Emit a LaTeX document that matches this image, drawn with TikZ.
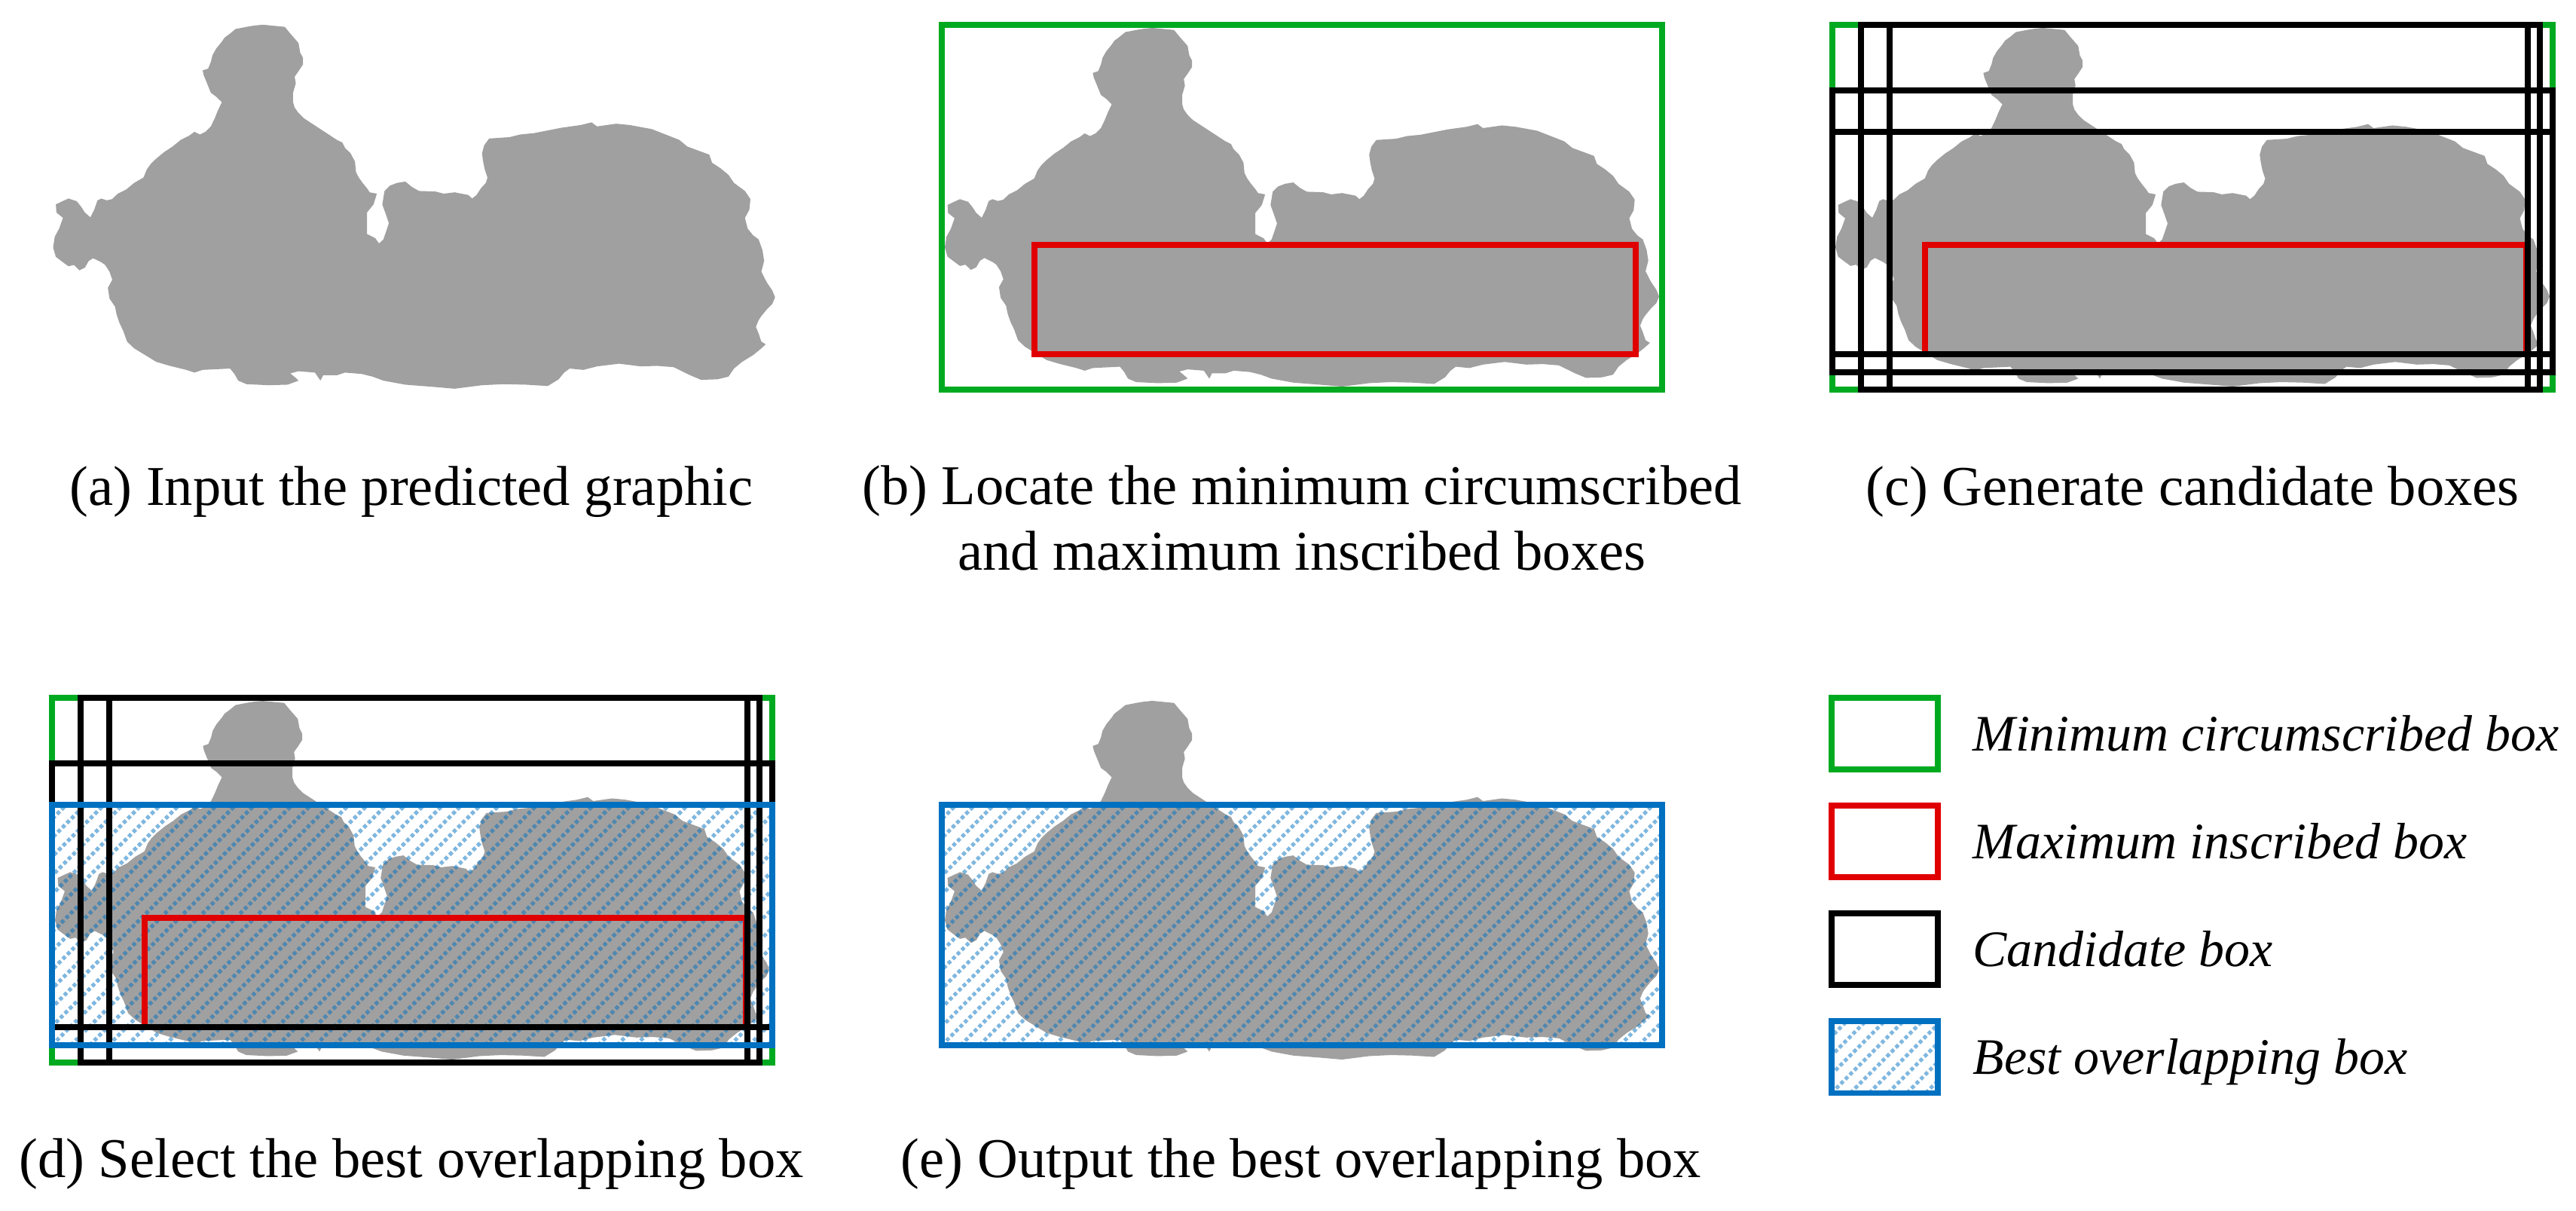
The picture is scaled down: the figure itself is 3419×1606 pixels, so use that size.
\documentclass[tikz,border=0pt]{standalone}
\usepackage{fontspec}
\setmainfont{Liberation Serif}
\usetikzlibrary{positioning}

\definecolor{boxgreen}{RGB}{0,170,32}
\definecolor{boxred}{RGB}{224,0,0}
\definecolor{boxblue}{RGB}{0,112,192}
\definecolor{blobgray}{RGB}{160,160,160}

\newcommand{\capfont}{\fontsize{21.2pt}{24.5pt}\selectfont}
\newcommand{\legfont}{\fontsize{19.3pt}{22pt}\selectfont\itshape}

\begin{document}
\begin{tikzpicture}[
        x=0.01cm, y=-0.01cm,
        edge/.style={line width=0.075cm},
        minbox/.style={edge, draw=boxgreen},
        maxbox/.style={edge, draw=boxred},
        candbox/.style={edge, draw=black},
        bestbox/.style={edge, draw=boxblue},
        hatchline/.style={
            draw=boxblue,
            draw opacity=0.5,
            line width=0.05cm,
            dash pattern=on 0.05cm off 0.035cm
        },
        hatched/.style={
            path picture={
                \foreach \k in {-500,-475,...,1000}
                    \draw[hatchline] (path picture bounding box.south west) ++(\k,0) -- ++(600,-600);
            }
        },
        captxt/.style={font=\capfont, anchor=base, align=center, inner sep=0pt},
        legbox/.style={edge, minimum width=1.41cm, minimum height=0.95cm, inner sep=0pt},
        legtxt/.style={font=\legfont, inner sep=0pt, text height=0.46cm, text depth=0cm},
        node distance=0.405cm and 0.42cm,
        blob/.pic={
            \fill[blobgray, shift={(-97,-92)}]
            (480,92) -- (520,100) -- (530,125) -- (545,160) -- (548,195) -- (553,215) -- (553,240)
            -- (545,265) -- (538,285) -- (540,310) -- (535,345) -- (535,380) -- (538,400) -- (545,420)
            -- (555,440) -- (570,460) -- (585,480) -- (600,500) -- (615,520) -- (625,530) -- (630,550)
            -- (640,570) -- (648,600) -- (650,640) -- (655,660) -- (662,680) -- (670,700) -- (675,715)
            -- (688,720) -- (682,760) -- (670,790) -- (670,870) -- (685,885) -- (692,905) -- (700,890)
            -- (705,860) -- (710,830) -- (705,800) -- (698,760) -- (702,710) -- (712,690) -- (725,680)
            -- (740,675) -- (752,695) -- (765,710) -- (795,712) -- (810,720) -- (830,715) -- (855,725)
            -- (862,738) -- (870,725) -- (878,700) -- (887,680) -- (890,660) -- (885,630) -- (882,600)
            -- (880,570) -- (884,540) -- (893,515) -- (930,510) -- (950,500) -- (975,495) -- (1000,485)
            -- (1025,475) -- (1060,465) -- (1080,455) -- (1090,470) -- (1125,460) -- (1150,465)
            -- (1190,480) -- (1215,500) -- (1240,520) -- (1255,545) -- (1275,560) -- (1295,575)
            -- (1300,605) -- (1315,625) -- (1330,650) -- (1340,680) -- (1360,710) -- (1370,740)
            -- (1368,780) -- (1360,810) -- (1365,850) -- (1375,875) -- (1385,890) -- (1392,930)
            -- (1395,970) -- (1390,1010) -- (1400,1050) -- (1410,1080) -- (1415,1105) -- (1410,1130)
            -- (1400,1150) -- (1390,1175) -- (1385,1190) -- (1380,1215) -- (1385,1240) -- (1390,1270)
            -- (1398,1280) -- (1390,1295) -- (1375,1320) -- (1355,1345) -- (1340,1370) -- (1330,1400)
            -- (1310,1410) -- (1280,1412) -- (1260,1395) -- (1245,1380) -- (1230,1365) -- (1200,1360)
            -- (1170,1362) -- (1130,1352) -- (1090,1362) -- (1065,1375) -- (1040,1370) -- (1030,1385)
            -- (1020,1410) -- (1000,1435) -- (960,1430) -- (920,1428) -- (880,1432) -- (830,1445)
            -- (790,1438) -- (740,1430) -- (700,1415) -- (680,1400) -- (660,1390) -- (630,1385)
            -- (615,1395) -- (590,1395) -- (585,1415) -- (575,1385) -- (545,1380) -- (530,1388)
            -- (540,1405) -- (545,1415) -- (525,1430) -- (490,1432) -- (450,1428) -- (435,1415)
            -- (428,1390) -- (420,1370) -- (400,1372) -- (370,1375) -- (355,1385) -- (340,1375)
            -- (310,1360) -- (285,1345) -- (265,1320) -- (245,1295) -- (232,1270) -- (225,1230)
            -- (218,1200) -- (213,1170) -- (210,1140) -- (200,1110) -- (197,1070) -- (205,1040)
            -- (200,1010) -- (192,985) -- (185,975) -- (170,960) -- (162,970) -- (155,995)
            -- (145,1005) -- (135,985) -- (125,990) -- (115,975) -- (102,955) -- (97,920) -- (100,880)
            -- (108,850) -- (115,810) -- (103,790) -- (102,760) -- (112,750) -- (125,738) -- (140,748)
            -- (148,768) -- (155,790) -- (165,808) -- (172,780) -- (178,745) -- (185,738) -- (195,745)
            -- (205,740) -- (215,720) -- (230,705) -- (245,680) -- (262,660) -- (268,630) -- (275,610)
            -- (285,590) -- (300,565) -- (315,545) -- (330,520) -- (345,505) -- (355,490) -- (365,500)
            -- (375,490) -- (385,470) -- (392,440) -- (398,410) -- (405,380) -- (395,360) -- (385,345)
            -- (378,310) -- (372,280) -- (370,262) -- (380,255) -- (385,230) -- (388,205) -- (395,180)
            -- (405,155) -- (410,140) -- (420,125) -- (430,108) -- (450,100) -- (465,95) -- cycle;
        }
    ]
    \useasboundingbox (0,0) rectangle (3419,1606);

    % (a) input
    \pic[xscale=0.727, yscale=0.357] at (70.5,32.8) {blob};

    % (b) circumscribed and inscribed boxes
    \pic[xscale=0.7193, yscale=0.3518] at (1254,37) {blob};
    \draw[maxbox] (1373,325) rectangle (2171,470);
    \draw[minbox] (1250,33) rectangle (2206,517);

    % (c) candidate boxes
    \pic[xscale=0.7193, yscale=0.3518] at (2436,37) {blob};
    \begin{scope}[shift={(2432,33)}]
        \draw[maxbox] (123,292) rectangle (921,437);
        \draw[minbox] (0,0) rectangle (956,484);
        \draw[candbox] (38,0) rectangle (939,484);
        \draw[candbox] (76,0) rectangle (923,484);
        \draw[candbox] (0,87) rectangle (956,437);
        \draw[candbox] (0,142) rectangle (956,461);
    \end{scope}

    % (d) best overlapping box
    \pic[xscale=0.7193, yscale=0.3518] at (73,930) {blob};
    \begin{scope}[shift={(69,926)}]
        \path[hatched] (0,142) rectangle (956,461);
        \draw[maxbox] (123,292) rectangle (921,437);
        \draw[minbox] (0,0) rectangle (956,484);
        \draw[candbox] (38,0) rectangle (939,484);
        \draw[candbox] (76,0) rectangle (923,484);
        \draw[candbox] (0,87) rectangle (956,437);
        \draw[bestbox] (0,142) rectangle (956,461);
    \end{scope}

    % (e) output
    \pic[xscale=0.7193, yscale=0.3518] at (1254,930) {blob};
    \begin{scope}[shift={(1250,926)}]
        \path[hatched] (0,142) rectangle (956,461);
        \draw[bestbox] (0,142) rectangle (956,461);
    \end{scope}

    % captions
    \node[captxt] (capa) at (546,670) {(a) Input the predicted graphic};
    \node[captxt] (capb) at (1728,756) {(b) Locate the minimum circumscribed\\and maximum inscribed boxes};
    \node[captxt] (capc) at (2910,670) {(c) Generate candidate boxes};
    \node[captxt] (capd) at (546,1562) {(d) Select the best overlapping box};
    \node[captxt] (cape) at (1727,1562) {(e) Output the best overlapping box};

    % legend
    \node[legbox, draw=boxgreen] (lgmin) at (2501.5,973.5) {};
    \node[legbox, draw=boxred, below=of lgmin] (lgmax) {};
    \node[legbox, draw=black, below=of lgmax] (lgcand) {};
    \node[legbox, draw=boxblue, hatched, below=of lgcand] (lgbest) {};

    \node[legtxt, right=of lgmin] (ltmin) {Minimum circumscribed box};
    \node[legtxt, right=of lgmax] (ltmax) {Maximum inscribed box};
    \node[legtxt, right=of lgcand] (ltcand) {Candidate box};
    \node[legtxt, right=of lgbest] (ltbest) {Best overlapping box};
\end{tikzpicture}
\end{document}
